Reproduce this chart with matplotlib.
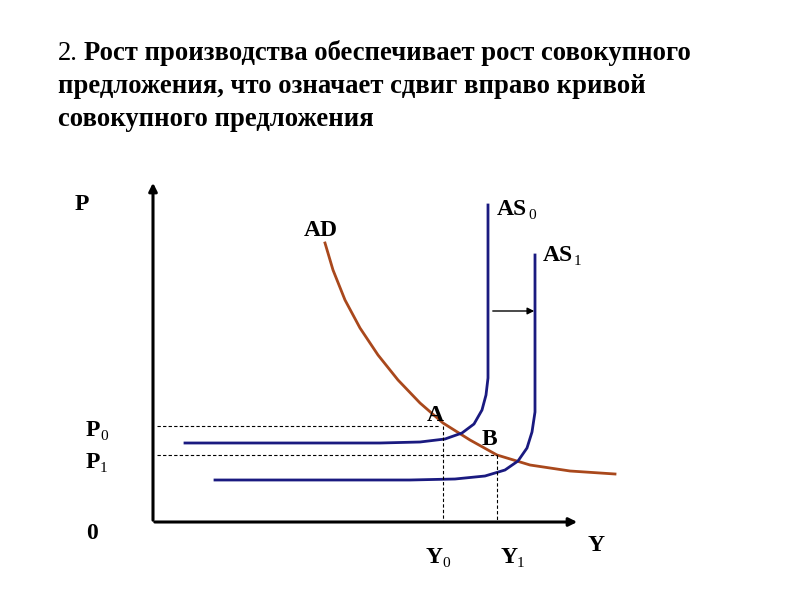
import matplotlib
matplotlib.use("Agg")
import matplotlib.pyplot as plt

ad_x = [325, 333, 345, 360, 378, 398, 420, 443, 470, 497, 530, 570, 615]
ad_y = [243, 270, 300, 328, 355, 380, 403, 423, 440, 455, 465, 471, 474]
as0_x = [185, 380, 420, 445, 462, 474, 482, 486, 488, 488, 488]
as0_y = [443, 443, 442, 439, 433, 424, 410, 395, 378, 350, 205]
as1_x = [215, 410, 455, 485, 505, 518, 527, 532, 535, 535, 535]
as1_y = [480, 480, 479, 476, 470, 461, 448, 432, 412, 390, 255]

font = ['Liberation Serif', 'DejaVu Serif']
fig = plt.figure(figsize=(8, 6), dpi=100)
ax = fig.add_axes([0, 0, 1, 1])
ax.set_xlim(0, 800); ax.set_ylim(600, 0); ax.axis('off')

ax.annotate('', xy=(153, 180), xytext=(153, 523),
            arrowprops=dict(arrowstyle='-|>', color='black', lw=2.2, mutation_scale=12))
ax.annotate('', xy=(580, 522), xytext=(152, 522),
            arrowprops=dict(arrowstyle='-|>', color='black', lw=2.2, mutation_scale=12))

ax.plot(ad_x, ad_y, color='#a9481c', lw=2, solid_joinstyle='round')
ax.plot(as0_x, as0_y, color='#1a1a80', lw=2, solid_joinstyle='round')
ax.plot(as1_x, as1_y, color='#1a1a80', lw=2, solid_joinstyle='round')

dk = dict(color='black', lw=0.8, ls=(0, (3, 2)))
ax.plot([157, 440], [426, 426], **dk)
ax.plot([157, 497], [455, 455], **dk)
ax.plot([443, 443], [426, 522], **dk)
ax.plot([497, 497], [455, 522], **dk)

ax.annotate('', xy=(537, 311), xytext=(490, 311),
            arrowprops=dict(arrowstyle='-|>', color='black', lw=1, mutation_scale=10))

kw = dict(family=font, fontweight='bold', fontsize=17, color='black')
sk = dict(family=font, fontsize=11, color='black')

def lab(x, y, s, sub=None, w=0):
    ax.text(x, y, s, **kw)
    if sub is not None:
        ax.text(x + w, y + 4, sub, **sk)

lab(75, 210, 'P')
lab(304, 236, 'AD')
lab(497, 215, 'AS', '0', 31)
lab(543, 261, 'AS', '1', 31)
lab(427, 421, 'A')
lab(482, 445, 'B')
lab(86, 436, 'P', '0', 14)
lab(86, 468, 'P', '1', 14)
lab(86, 539, '0')
lab(426, 563, 'Y', '0', 16)
lab(501, 563, 'Y', '1', 16)
lab(588, 551, 'Y')

lines = ['Рост производства обеспечивает рост совокупного',
         'предложения, что означает сдвиг вправо кривой',
         'совокупного предложения']
tk = dict(family=font, fontsize=19.2, color='black', va='baseline')
ax.text(58, 60, '2.', **tk)
ax.text(84, 60, lines[0], fontweight='bold', **tk)
ax.text(58, 93, lines[1], fontweight='bold', **tk)
ax.text(58, 126, lines[2], fontweight='bold', **tk)

fig.savefig('out.png', dpi=100)
